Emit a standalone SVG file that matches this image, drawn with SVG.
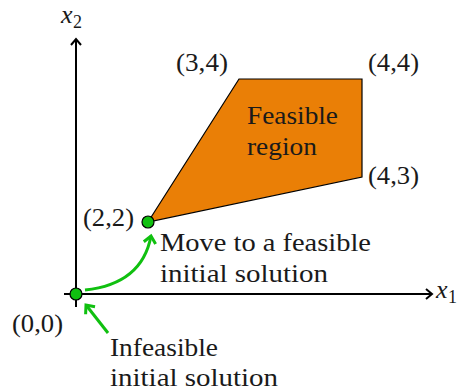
<svg xmlns="http://www.w3.org/2000/svg" width="459" height="391" viewBox="0 0 459 391" font-size="26">
<style>
text{fill:#1a1a1a}
.a{font-family:'Liberation Serif'}
.ai{font-family:'Liberation Serif';font-style:italic}
.axis{stroke:#000;stroke-width:2;fill:none}
.garrow{stroke:#10c010;stroke-width:3;fill:none}
.pt{fill:#10c010;stroke:#000;stroke-width:1.2}
</style>
<defs>
<marker id="ah" markerUnits="userSpaceOnUse" markerWidth="16" markerHeight="16" viewBox="-10 -8 12 16" refX="0" refY="0" orient="auto">
<path d="M-6,-5 L0,0 L-6,5" fill="none" stroke="#000" stroke-width="2"/>
</marker>
<marker id="gh" markerUnits="userSpaceOnUse" markerWidth="18" markerHeight="18" viewBox="-12 -9 14 18" refX="0" refY="0" orient="auto">
<path d="M-7,-6 L0,0 L-7,6" fill="none" stroke="#10c010" stroke-width="3"/>
</marker>
</defs>
<g id="region">
<polygon points="148,222 239,79 362,79 362,177" fill="#ea7f06" stroke="#000" stroke-width="1.2"/>
<text class="a" x="247" y="124" textLength="91" lengthAdjust="spacingAndGlyphs">Feasible</text>
<text class="a" x="247" y="155" textLength="70" lengthAdjust="spacingAndGlyphs">region</text>
</g>
<g id="axes">
<line class="axis" x1="64" y1="294" x2="432" y2="294" marker-end="url(#ah)"/>
<line class="axis" x1="76" y1="307" x2="76" y2="39" marker-end="url(#ah)"/>
<text class="ai" x="61" y="23">x</text><text class="a" x="73" y="28" font-size="18">2</text>
<text class="ai" x="436" y="298">x</text><text class="a" x="448" y="303" font-size="18">1</text>
</g>
<g id="connectors">
<path class="garrow" d="M85,290 Q142,284 151,236" marker-end="url(#gh)"/>
<line class="garrow" x1="108" y1="333" x2="86" y2="305" marker-end="url(#gh)"/>
</g>
<g id="p00">
<circle class="pt" cx="76" cy="294" r="6"/>
<text class="a" x="12" y="332" textLength="51" lengthAdjust="spacingAndGlyphs">(0,0)</text>
</g>
<g id="p22">
<circle class="pt" cx="148" cy="222" r="6"/>
<text class="a" x="83" y="226" textLength="51" lengthAdjust="spacingAndGlyphs">(2,2)</text>
</g>
<g id="p34"><text class="a" x="176" y="71" textLength="52" lengthAdjust="spacingAndGlyphs">(3,4)</text></g>
<g id="p44"><text class="a" x="368" y="71" textLength="51" lengthAdjust="spacingAndGlyphs">(4,4)</text></g>
<g id="p43"><text class="a" x="368" y="184" textLength="51" lengthAdjust="spacingAndGlyphs">(4,3)</text></g>
<g id="move-label">
<text class="a" x="160" y="251" textLength="211" lengthAdjust="spacingAndGlyphs">Move to a feasible</text>
<text class="a" x="160" y="282" textLength="168" lengthAdjust="spacingAndGlyphs">initial solution</text>
</g>
<g id="infeasible-label">
<text class="a" x="110" y="356" textLength="108" lengthAdjust="spacingAndGlyphs">Infeasible</text>
<text class="a" x="110" y="386" textLength="168" lengthAdjust="spacingAndGlyphs">initial solution</text>
</g>
</svg>
